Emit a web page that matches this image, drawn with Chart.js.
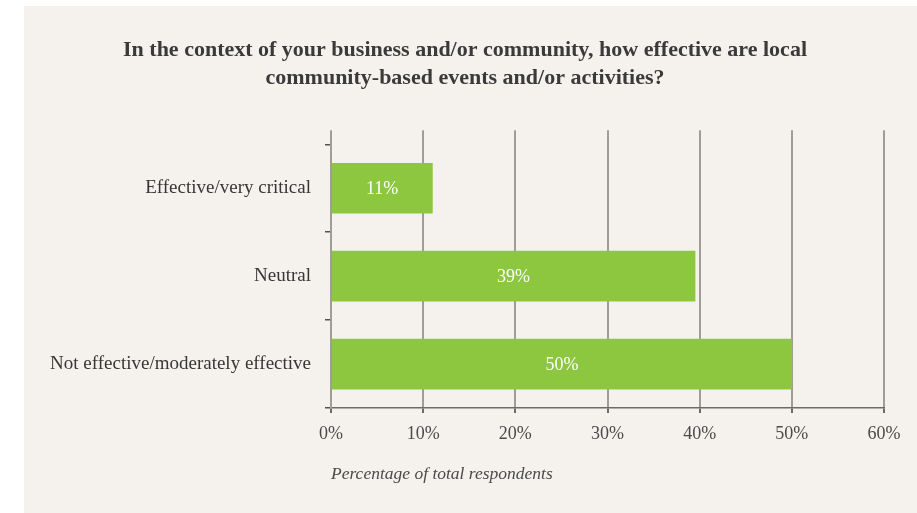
<!DOCTYPE html>
<html>
<head>
<meta charset="utf-8">
<script src="https://cdn.jsdelivr.net/npm/chart.js@4"></script>
<style>
  body { margin: 0; background: #ffffff; }
  #panel { position: absolute; left: 24px; top: 6px; right: 0; bottom: 0; background: #f5f2ee; }
  #chart01 { position: absolute; left: 0; top: 0; }
</style>
</head>
<body>
<div id="panel"></div>
<canvas id="chart01" width="917" height="513"></canvas>
<script>
const categories = ['Effective/very critical', 'Neutral', 'Not effective/moderately effective']
const values = [11, 39.5, 50]
const valueLabels = ['11%', '39%', '50%']
const xMin = 0
const xMax = 60
const xStep = 10

const serif = "'Liberation Serif', 'DejaVu Serif', serif"
const gridColor = '#a09c98'
const gridWidth = 2

// bar value text, drawn in the middle of each bar
const barLabels = {
    id: 'barLabels',
    afterDatasetsDraw(chart) {
        const ctx = chart.ctx
        const meta = chart.getDatasetMeta(0)
        ctx.save()
        ctx.fillStyle = '#ffffff'
        ctx.font = "18px " + serif
        ctx.textAlign = 'center'
        ctx.textBaseline = 'middle'
        meta.data.forEach((bar, i) => {
            ctx.fillText(valueLabels[i], (bar.base + bar.x) / 2, bar.y + 1)
        })
        ctx.restore()
    }
}

// vertical grid lines run a little above the first category tick
const gridTop = {
    id: 'gridTop',
    beforeDatasetsDraw(chart) {
        const ctx = chart.ctx
        const x = chart.scales.x
        const top = chart.chartArea.top
        ctx.save()
        ctx.strokeStyle = gridColor
        ctx.lineWidth = gridWidth
        for (let v = xMin; v <= xMax; v += xStep) {
            // same pixel snapping as the library's grid
            const px = Math.round(x.getPixelForValue(v) - gridWidth / 2) + gridWidth / 2
            ctx.beginPath()
            ctx.moveTo(px, top - 14)
            ctx.lineTo(px, top + 1)
            ctx.stroke()
        }
        ctx.restore()
    }
}

new Chart(document.getElementById('chart01').getContext('2d'), {
    type: 'bar',
    data: {
        labels: categories,
        datasets: [{
            data: values,
            backgroundColor: '#8dc63f',
            borderWidth: 0,
            barThickness: 50
        }]
    },
    plugins: [gridTop, barLabels],
    options: {
        indexAxis: 'y',
        responsive: false,
        animation: false,
        layout: { padding: { left: 46, right: 33, top: 0, bottom: 0 } },
        plugins: {
            legend: { display: false },
            tooltip: { enabled: false },
            title: {
                display: true,
                text: ['In the context of your business and/or community, how effective are local',
                       'community-based events and/or activities?'],
                color: '#3a3a3a',
                font: { family: serif, size: 22, weight: 'bold', lineHeight: 1.28 },
                padding: { top: 36, bottom: 52 }
            }
        },
        scales: {
            x: {
                min: xMin,
                max: xMax,
                ticks: {
                    stepSize: xStep,
                    color: '#4a4a4a',
                    font: { family: serif, size: 18 },
                    padding: 10,
                    callback: v => v + '%'
                },
                grid: { color: gridColor, lineWidth: gridWidth, tickLength: 5, tickColor: '#6d6a67' },
                border: { display: true, color: '#6d6a67', width: 1.5 },
                title: {
                    display: true,
                    text: 'Percentage of total respondents',
                    align: 'start',
                    color: '#4a4a4a',
                    font: { family: serif, size: 17.5, style: 'italic', lineHeight: 1.2 },
                    padding: { top: 10, bottom: 28 }
                },
                afterFit(scale) { scale.height = 105 }
            },
            y: {
                ticks: {
                    color: '#363636',
                    font: { family: serif, size: 19 },
                    padding: 14
                },
                grid: { drawOnChartArea: false, offset: true, tickLength: 6, color: '#55524f', lineWidth: 1.5 },
                border: { display: true, color: gridColor, width: gridWidth },
                afterFit(scale) { scale.width = 285 }
            }
        }
    }
})
</script>
</body>
</html>
